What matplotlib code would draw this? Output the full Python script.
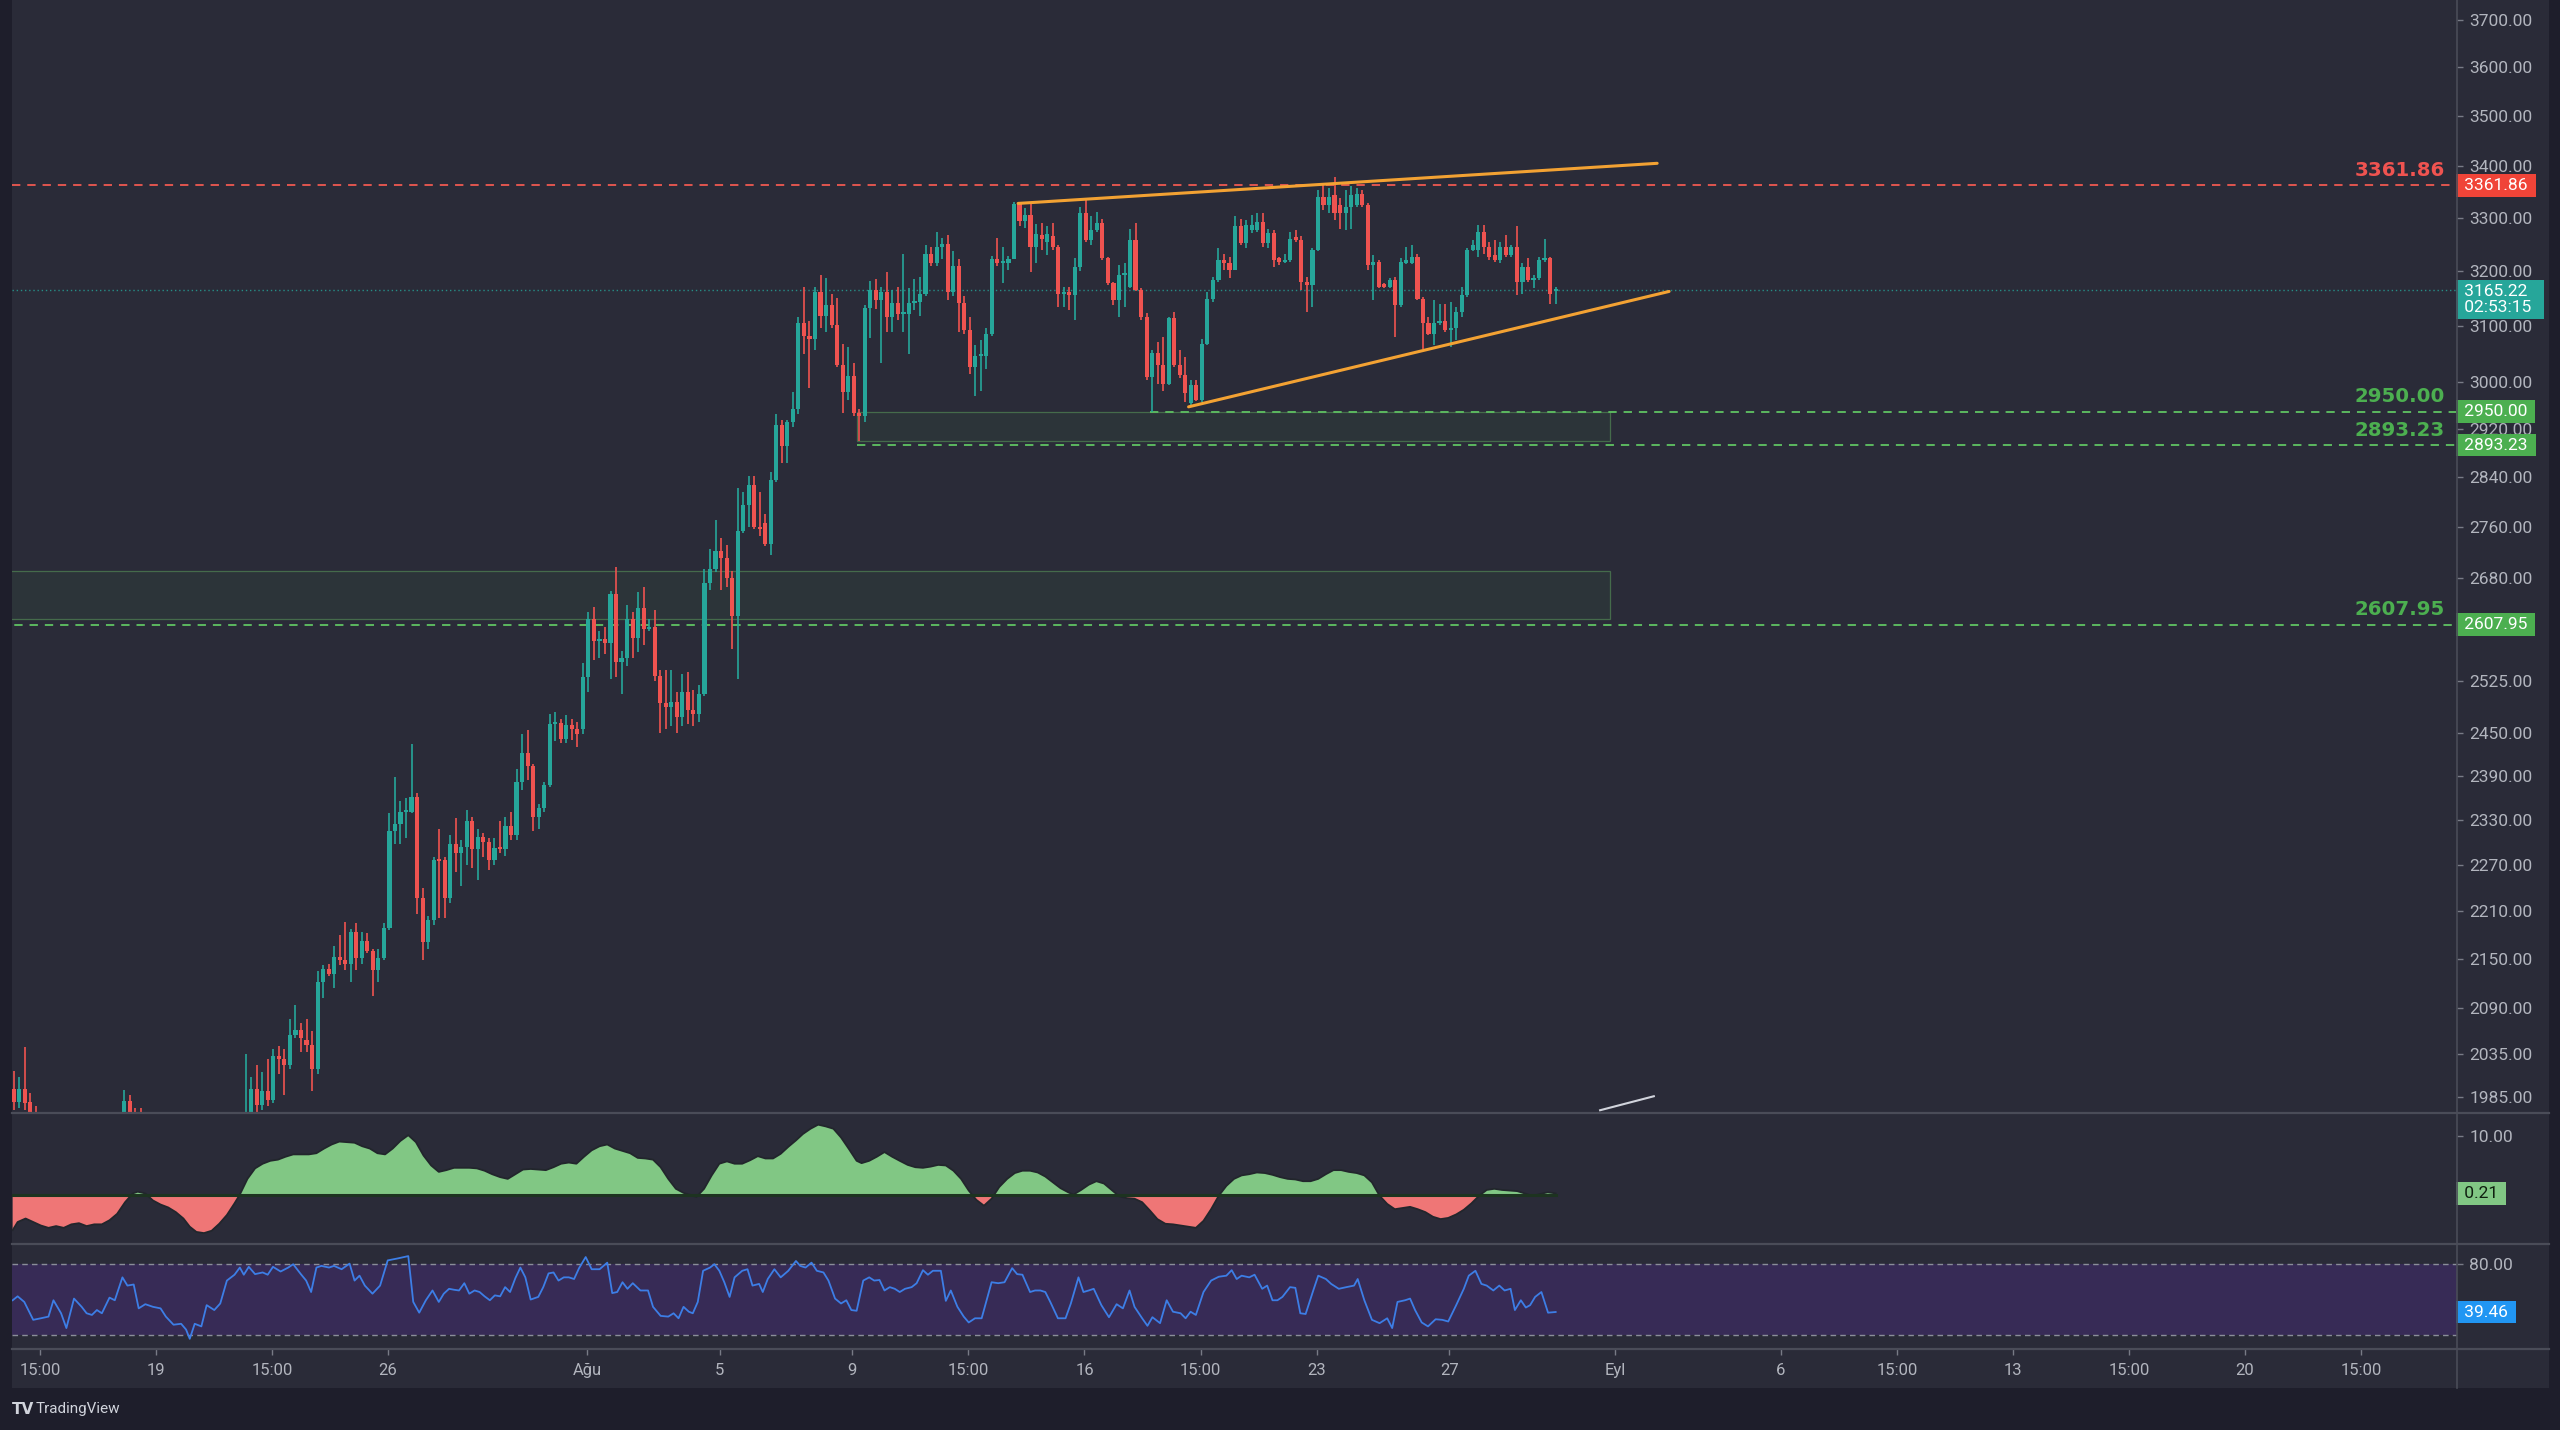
import numpy as np
import matplotlib
matplotlib.use("Agg")
import matplotlib.pyplot as plt
from matplotlib.lines import Line2D
from matplotlib.patches import Rectangle
from matplotlib.ticker import FixedLocator, FuncFormatter, NullLocator
from matplotlib.transforms import blended_transform_factory

nan = np.nan

# 4h candles, first bar opens 2021-07-14 15:00 (bars below the visible range are nan)
opens = ([1994, 1979, 1994, 1979, 1965] + [nan] * 15 + [1950, 1981, 1955, 1950] + [nan] * 18 +
         [1940, 1955, 1994, 1976, 1992, 1982, 2033, 2029,
          2022, 2058, 2064, 2052, 2046, 2018, 2122, 2138, 2131, 2153,
          2149, 2144, 2184, 2151, 2173, 2160, 2136, 2151, 2189, 2315,
          2324, 2340, 2341, 2361, 2227, 2171, 2199, 2277, 2276, 2227,
          2298, 2286, 2294, 2329, 2291, 2307, 2300, 2277, 2293, 2291,
          2322, 2310, 2382, 2422, 2404, 2334, 2346, 2377, 2462, 2464,
          2442, 2461, 2456, 2455, 2530, 2616, 2583, 2586, 2580, 2655,
          2553, 2559, 2616, 2588, 2633, 2602, 2605, 2532, 2493, 2487,
          2494, 2472, 2508, 2482, 2477, 2506, 2672, 2694, 2722, 2711,
          2680, 2621, 2754, 2795, 2828, 2760, 2766, 2733, 2836, 2927,
          2891, 2933, 2954, 3105, 3082, 3076, 3161, 3118, 3138, 3102,
          3030, 2983, 3011, 2948, 2942, 3131, 3164, 3147, 3161, 3115,
          3141, 3121, 3121, 3141, 3143, 3157, 3231, 3214, 3245, 3250,
          3161, 3209, 3141, 3092, 3027, 3046, 3046, 3085, 3221, 3214,
          3214, 3221, 3325, 3294, 3304, 3245, 3267, 3253, 3264, 3245,
          3158, 3161, 3156, 3207, 3308, 3257, 3276, 3289, 3223, 3177,
          3146, 3192, 3171, 3257, 3165, 3116, 3010, 3051, 3030, 2998,
          3113, 3030, 3013, 2964, 2995, 2970, 3068, 3149, 3183, 3220,
          3214, 3201, 3283, 3251, 3276, 3276, 3292, 3251, 3270, 3223,
          3217, 3220, 3263, 3257, 3180, 3174, 3239, 3340, 3324, 3343,
          3324, 3308, 3321, 3324, 3346, 3324, 3210, 3217, 3174, 3171,
          3183, 3137, 3214, 3214, 3226, 3149, 3104, 3086, 3104, 3108,
          3092, 3095, 3125, 3155, 3239, 3239, 3273, 3245, 3229, 3220,
          3245, 3229, 3245, 3180, 3207, 3183, 3186, 3220, 3223, 3162])
highs = ([2015, 2008, 2043, 1990, 1975] + [nan] * 15 + [1993, 1988, 1973, 1973] + [nan] * 18 +
         [2035, 2008, 2022, 2014, 2029, 2041, 2045, 2041,
          2077, 2094, 2072, 2077, 2062, 2135, 2142, 2144, 2166, 2180,
          2197, 2188, 2195, 2184, 2182, 2162, 2162, 2195, 2339, 2389,
          2356, 2360, 2434, 2367, 2240, 2204, 2280, 2317, 2280, 2310,
          2332, 2303, 2343, 2334, 2317, 2312, 2305, 2305, 2329, 2334,
          2341, 2399, 2449, 2454, 2406, 2351, 2382, 2477, 2480, 2470,
          2475, 2470, 2466, 2551, 2627, 2635, 2599, 2605, 2660, 2697,
          2569, 2638, 2627, 2658, 2666, 2616, 2630, 2540, 2540, 2540,
          2508, 2535, 2538, 2511, 2519, 2694, 2725, 2771, 2742, 2731,
          2691, 2822, 2816, 2842, 2842, 2816, 2780, 2848, 2945, 2936,
          2936, 2983, 3115, 3170, 3108, 3171, 3192, 3186, 3157, 3150,
          3068, 3062, 3034, 2955, 3138, 3181, 3184, 3171, 3198, 3164,
          3171, 3231, 3168, 3184, 3188, 3248, 3244, 3273, 3262, 3266,
          3237, 3221, 3154, 3115, 3066, 3075, 3095, 3228, 3262, 3245,
          3228, 3329, 3329, 3318, 3325, 3287, 3289, 3283, 3289, 3248,
          3171, 3171, 3223, 3321, 3333, 3302, 3311, 3298, 3226, 3180,
          3210, 3214, 3279, 3289, 3168, 3122, 3057, 3071, 3080, 3116,
          3125, 3057, 3045, 3004, 3004, 3077, 3161, 3189, 3242, 3232,
          3226, 3302, 3298, 3296, 3305, 3308, 3308, 3279, 3276, 3226,
          3232, 3273, 3276, 3264, 3189, 3242, 3353, 3363, 3356, 3379,
          3337, 3353, 3360, 3356, 3353, 3327, 3229, 3220, 3177, 3186,
          3189, 3223, 3245, 3248, 3232, 3152, 3116, 3146, 3140, 3140,
          3143, 3134, 3171, 3242, 3257, 3286, 3286, 3254, 3257, 3254,
          3267, 3248, 3283, 3214, 3223, 3192, 3226, 3260, 3226, 3171])
lows = ([1970, 1972, 1970, 1950, 1935] + [nan] * 15 + [1940, 1940, 1930, 1930] + [nan] * 18 +
        [1930, 1950, 1965, 1970, 1975, 1978, 2012, 1988,
         2018, 2054, 2037, 2037, 1992, 2012, 2102, 2129, 2114, 2142,
         2136, 2122, 2136, 2144, 2158, 2105, 2122, 2149, 2186, 2298,
         2297, 2305, 2339, 2206, 2149, 2162, 2193, 2201, 2201, 2220,
         2261, 2243, 2270, 2266, 2250, 2280, 2263, 2270, 2286, 2282,
         2303, 2303, 2370, 2384, 2315, 2317, 2341, 2375, 2439, 2436,
         2436, 2440, 2430, 2448, 2508, 2556, 2558, 2564, 2527, 2530,
         2506, 2546, 2558, 2567, 2578, 2599, 2524, 2450, 2455, 2460,
         2450, 2460, 2462, 2460, 2465, 2503, 2661, 2688, 2661, 2666,
         2572, 2527, 2750, 2760, 2757, 2745, 2730, 2716, 2833, 2863,
         2863, 2924, 2945, 3050, 2990, 3057, 3095, 3089, 3095, 3027,
         2948, 2970, 2942, 2900, 2932, 3078, 3130, 3034, 3089, 3089,
         3111, 3089, 3050, 3128, 3118, 3154, 3208, 3208, 3221, 3147,
         3154, 3089, 3086, 3015, 2977, 2986, 3024, 3082, 3208, 3178,
         3201, 3221, 3283, 3280, 3198, 3214, 3239, 3230, 3239, 3134,
         3134, 3128, 3110, 3200, 3254, 3248, 3273, 3220, 3174, 3137,
         3116, 3134, 3168, 3162, 3110, 3004, 2950, 2998, 2986, 2995,
         3027, 3007, 2967, 2958, 2968, 2966, 3065, 3143, 3180, 3201,
         3186, 3201, 3248, 3242, 3270, 3273, 3245, 3242, 3207, 3210,
         3214, 3217, 3254, 3165, 3125, 3134, 3236, 3314, 3308, 3295,
         3279, 3276, 3279, 3321, 3321, 3201, 3146, 3168, 3168, 3168,
         3080, 3134, 3212, 3212, 3146, 3059, 3083, 3065, 3101, 3089,
         3062, 3074, 3116, 3152, 3236, 3226, 3232, 3220, 3217, 3214,
         3226, 3226, 3155, 3158, 3180, 3168, 3183, 3217, 3140, 3140])
closes = ([1979, 1994, 1978, 1962, 1945] + [nan] * 15 + [1981, 1950, 1950, 1945] + [nan] * 18 +
          [1960, 1994, 1976, 1992, 1982, 2033, 2029, 2022,
           2058, 2064, 2054, 2046, 2018, 2122, 2138, 2131, 2153, 2149,
           2144, 2184, 2151, 2173, 2160, 2136, 2151, 2189, 2315, 2324,
           2340, 2341, 2361, 2227, 2171, 2199, 2277, 2275, 2227, 2298,
           2286, 2294, 2329, 2291, 2307, 2300, 2277, 2293, 2291, 2322,
           2310, 2382, 2422, 2404, 2334, 2346, 2377, 2462, 2464, 2442,
           2461, 2456, 2448, 2530, 2616, 2583, 2586, 2580, 2655, 2553,
           2559, 2616, 2588, 2633, 2602, 2605, 2532, 2493, 2487, 2494,
           2472, 2508, 2482, 2477, 2506, 2672, 2694, 2722, 2711, 2680,
           2621, 2754, 2795, 2828, 2760, 2757, 2733, 2836, 2927, 2891,
           2933, 2954, 3105, 3082, 3076, 3161, 3118, 3138, 3102, 3030,
           2983, 3011, 2948, 2942, 3131, 3164, 3147, 3161, 3115, 3141,
           3121, 3121, 3141, 3143, 3157, 3231, 3214, 3245, 3250, 3161,
           3209, 3141, 3092, 3027, 3046, 3046, 3085, 3221, 3214, 3214,
           3221, 3325, 3294, 3304, 3245, 3269, 3260, 3268, 3245, 3158,
           3161, 3156, 3207, 3308, 3257, 3276, 3289, 3223, 3177, 3146,
           3192, 3196, 3257, 3165, 3116, 3010, 3051, 3030, 2998, 3113,
           3030, 3013, 2981, 2995, 2970, 3068, 3149, 3183, 3220, 3214,
           3201, 3283, 3251, 3286, 3286, 3292, 3251, 3270, 3220, 3217,
           3220, 3260, 3257, 3180, 3174, 3239, 3340, 3324, 3340, 3308,
           3308, 3321, 3343, 3346, 3324, 3210, 3217, 3171, 3171, 3183,
           3137, 3217, 3220, 3226, 3149, 3104, 3086, 3105, 3108, 3092,
           3095, 3125, 3155, 3239, 3248, 3273, 3245, 3226, 3220, 3245,
           3229, 3245, 3180, 3207, 3183, 3186, 3220, 3223, 3158, 3165.22])

macd_t = [-4.32, -4.17, -3.93, -3.70, -3.47, -3.24, -3.01, -2.78, -2.55, -2.32,
          -2.09, -1.86, -1.63, -1.40, -1.17, -0.93, -0.70, -0.55, -0.32, -0.09,
          0.14, 0.37, 0.60, 0.83, 1.02, 1.22, 1.45, 1.68, 1.91, 2.14,
          2.37, 2.53, 2.76, 2.99, 3.22, 3.45, 3.68, 3.91, 4.14, 4.37,
          4.61, 4.84, 5.07, 5.30, 5.53, 5.76, 5.99, 6.22, 6.45, 6.68,
          6.91, 7.14, 7.37, 7.61, 7.84, 8.07, 8.30, 8.53, 8.76, 8.99,
          9.22, 9.45, 9.68, 9.91, 10.14, 10.38, 10.61, 10.84, 11.07, 11.30,
          11.53, 11.76, 11.99, 12.22, 12.45, 12.68, 12.91, 13.14, 13.38, 13.61,
          13.84, 14.07, 14.30, 14.53, 14.76, 14.99, 15.22, 15.45, 15.68, 15.91,
          16.14, 16.30, 16.53, 16.76, 16.99, 17.22, 17.45, 17.68, 17.92, 18.15,
          18.38, 18.61, 18.84, 19.07, 19.30,
          19.51, 19.74, 19.97, 20.20, 20.43, 20.66, 20.90, 21.13, 21.28, 21.51,
          21.74, 21.97, 22.20, 22.43, 22.67, 22.90, 23.13, 23.36, 23.59, 23.82,
          24.05, 24.28, 24.51, 24.74, 24.97, 25.20, 25.43, 25.67, 25.90, 26.13,
          26.36, 26.59, 26.82, 27.05, 27.28, 27.51, 27.67, 27.90, 28.13, 28.36,
          28.59, 28.82, 29.05, 29.28, 29.51, 29.74, 29.97, 30.20, 30.44, 30.67,
          30.90, 31.13, 31.36, 31.59, 31.82, 32.05, 32.28, 32.51, 32.74, 32.97,
          33.20, 33.44, 33.67, 33.90, 34.13, 34.36, 34.59, 34.82, 35.05, 35.28,
          35.51, 35.74, 35.97, 36.21, 36.44, 36.67, 36.90, 37.13, 37.36, 37.59,
          37.82, 38.05, 38.28, 38.51, 38.74, 38.97, 39.21, 39.44, 39.67, 39.90,
          40.13, 40.36, 40.59, 40.82, 41.05, 41.28, 41.51, 41.74, 41.97, 42.21]
macd_v = [-6.1, -4.7, -4.1, -4.7, -5.3, -5.7, -5.4, -5.7, -5.1, -4.9,
          -5.4, -5.1, -5.1, -4.4, -3.3, -1.3, 0.2, 0.5, 0.2, -1.0,
          -1.7, -2.2, -3.0, -4.1, -5.5, -6.4, -6.6, -6.2, -5.0, -3.5,
          -1.5, 0.0, 2.7, 4.5, 5.3, 5.8, 6.0, 6.5, 6.9, 6.9,
          6.9, 7.1, 7.9, 8.6, 9.1, 9.0, 8.9, 8.3, 7.9, 7.1,
          6.9, 7.9, 9.2, 10.2, 9.0, 6.7, 5.0, 3.9, 4.2, 4.6,
          4.6, 4.6, 4.5, 4.1, 3.5, 3.0, 2.7, 3.5, 4.3, 4.4,
          4.3, 4.2, 4.7, 5.3, 5.5, 5.3, 6.5, 7.6, 8.3, 8.6,
          7.9, 7.5, 7.1, 6.3, 6.2, 6.0, 4.7, 2.7, 1.0, 0.3,
          -0.1, -0.4, 1.0, 3.3, 5.3, 5.7, 5.3, 5.3, 5.9, 6.6,
          6.2, 6.2, 7.0, 8.2, 9.3,
          10.4, 11.3, 12.0, 11.7, 11.3, 9.8, 7.8, 5.8, 5.4, 5.8,
          6.5, 7.3, 6.5, 5.8, 5.1, 4.7, 4.6, 4.8, 5.1, 5.0,
          4.1, 2.7, 0.7, -0.9, -1.9, -0.7, 1.3, 2.7, 3.7, 4.1,
          4.1, 3.8, 3.1, 2.1, 1.1, 0.4, 0.0, 0.8, 1.7, 2.3,
          1.9, 0.8, -0.3, -0.6, -0.7, -1.3, -2.7, -4.2, -5.0, -5.1,
          -5.3, -5.5, -5.7, -4.5, -2.5, -0.2, 1.5, 2.7, 3.3, 3.5,
          3.8, 3.7, 3.4, 3.0, 2.7, 2.6, 2.3, 2.3, 2.7, 3.5,
          4.2, 4.2, 3.9, 3.7, 3.3, 2.1, -0.2, -1.6, -2.5, -2.3,
          -2.1, -2.5, -3.0, -3.8, -4.2, -4.0, -3.4, -2.6, -1.5, -0.2,
          0.8, 1.0, 0.8, 0.7, 0.6, 0.2, -0.2, 0.1, 0.4, 0.21]

# RSI pane
rsi_t = [-4.32, -4.17, -3.97, -3.70, -3.47, -3.24, -3.09, -2.86, -2.70, -2.47,
         -2.24, -2.09, -1.93, -1.78, -1.63, -1.40, -1.24, -1.01, -0.86, -0.67,
         -0.52, -0.32, -0.09, 0.14, 0.30, 0.53, 0.76, 0.91, 1.02, 1.17,
         1.37, 1.53, 1.76, 1.94, 2.14, 2.37, 2.53, 2.65, 2.80, 2.99,
         3.22, 3.37, 3.53, 3.76, 3.99, 4.14, 4.37, 4.53, 4.68, 4.84,
         4.99, 5.22, 5.37, 5.60, 5.84, 5.99, 6.14, 6.30, 6.53, 6.76,
         6.99, 7.30, 7.61, 7.76, 7.94, 8.14, 8.34, 8.53, 8.68, 8.84,
         8.99, 9.14, 9.30, 9.45, 9.61, 9.76, 9.91, 10.07, 10.22, 10.38,
         10.53, 10.68, 10.84, 10.99, 11.14, 11.30, 11.53, 11.68, 11.84, 11.99,
         12.14, 12.30, 12.45, 12.61, 12.76, 12.96, 13.14, 13.38, 13.61, 13.76,
         13.91, 14.07, 14.22, 14.38, 14.61, 14.84, 14.99, 15.22, 15.45, 15.61,
         15.76, 15.91, 16.07, 16.19, 16.34, 16.50, 16.71, 16.84, 16.99, 17.14,
         17.30, 17.45, 17.68, 17.84, 17.99, 18.19, 18.30, 18.45, 18.65, 18.84,
         19.07, 19.30,
         19.43, 19.59, 19.77, 19.93, 20.13, 20.28, 20.48, 20.66, 20.82, 20.97,
         21.13, 21.33, 21.51, 21.66, 21.82, 21.97, 22.13, 22.28, 22.43, 22.59,
         22.79, 22.94, 23.13, 23.28, 23.43, 23.67, 23.82, 23.97, 24.17, 24.36,
         24.51, 24.70, 24.90, 25.05, 25.20, 25.40, 25.59, 25.82, 25.97, 26.13,
         26.36, 26.51, 26.67, 26.82, 26.97, 27.20, 27.43, 27.59, 27.82, 27.97,
         28.13, 28.28, 28.51, 28.74, 28.97, 29.16, 29.36, 29.51, 29.74, 29.90,
         30.05, 30.28, 30.48, 30.67, 30.90, 31.05, 31.20, 31.36, 31.59, 31.82,
         32.05, 32.28, 32.44, 32.59, 32.74, 32.97, 33.13, 33.36, 33.51, 33.67,
         33.82, 33.97, 34.20, 34.36, 34.51, 34.67, 34.90, 35.05, 35.28, 35.44,
         35.67, 35.90, 36.13, 36.24, 36.44, 36.67, 36.90, 37.13, 37.28, 37.44,
         37.67, 37.82, 37.97, 38.17, 38.36, 38.59, 38.79, 38.97, 39.21, 39.44,
         39.59, 39.79, 39.97, 40.13, 40.33, 40.51, 40.67, 40.85, 40.98, 41.16,
         41.31, 41.44, 41.59, 41.78, 41.98, 42.21]
rsi_v = [49.3, 52.6, 47.9, 32.9, 34.2, 35.6, 49.3, 38.4, 26.0, 50.7,
         43.8, 38.4, 37.0, 41.1, 38.4, 51.5, 49.3, 68.5, 61.6, 62.5,
         42.5, 46.0, 43.8, 42.5, 35.6, 28.8, 29.6, 24.7, 17.0, 29.6,
         27.4, 45.2, 41.1, 46.6, 65.8, 70.7, 76.7, 70.7, 77.3, 71.2,
         72.6, 70.7, 77.3, 73.4, 76.7, 79.5, 71.2, 65.8, 56.2, 76.7,
         78.1, 76.7, 78.1, 75.3, 80.0, 65.8, 69.9, 61.6, 54.8, 61.6,
         82.7, 84.4, 86.3, 47.9, 38.9, 49.3, 57.5, 47.9, 54.8, 58.9,
         58.1, 57.5, 63.6, 54.8, 57.5, 56.2, 52.6, 49.3, 53.4, 52.6,
         60.3, 56.2, 67.9, 76.7, 68.5, 49.9, 52.1, 60.3, 71.8, 72.6,
         65.8, 68.5, 68.5, 67.1, 76.2, 85.5, 75.3, 75.3, 80.8, 55.3,
         56.2, 64.4, 58.9, 63.6, 57.5, 57.5, 43.8, 36.2, 35.6, 38.4,
         34.2, 43.8, 39.7, 38.4, 47.9, 74.0, 76.7, 79.5, 74.0, 64.4,
         52.1, 68.5, 74.0, 75.3, 61.6, 63.0, 56.2, 67.1, 75.3, 68.5,
         74.0, 82.2,
         78.1, 76.7, 80.8, 74.0, 72.6, 65.8, 50.7, 46.6, 49.3, 41.1,
         40.5, 65.8, 68.5, 65.8, 66.3, 57.5, 60.3, 58.9, 56.2, 58.9,
         60.3, 63.6, 74.5, 70.7, 74.0, 74.0, 48.8, 57.5, 43.8, 35.6,
         30.7, 34.2, 34.2, 49.3, 64.4, 63.6, 64.4, 76.2, 71.2, 70.7,
         56.2, 57.5, 57.5, 56.2, 47.9, 34.2, 34.2, 46.6, 68.5, 56.2,
         57.5, 58.9, 45.2, 35.1, 46.0, 42.5, 57.5, 43.8, 34.2, 27.9,
         35.1, 30.1, 49.3, 39.7, 38.4, 34.2, 39.7, 37.0, 56.2, 65.8,
         69.0, 69.9, 74.5, 67.1, 69.9, 68.5, 70.7, 58.9, 61.6, 49.3,
         49.3, 52.1, 60.3, 59.7, 38.4, 37.8, 57.5, 69.9, 67.1, 63.0,
         58.9, 60.3, 61.6, 67.1, 49.3, 32.9, 30.1, 34.2, 26.0, 47.9,
         49.3, 50.7, 41.1, 30.7, 27.4, 33.4, 32.9, 31.5, 45.2, 58.9,
         69.9, 74.0, 63.0, 61.6, 57.5, 61.6, 57.5, 58.9, 41.1, 49.3,
         43.2, 45.2, 52.1, 56.2, 38.9, 39.46]

price_ticks = [3700, 3600, 3500, 3400, 3300, 3200, 3100, 3000, 2920, 2840, 2760,
               2680, 2525, 2450, 2390, 2330, 2270, 2210, 2150, 2090, 2035, 1985]
time_ticks = ['2021-07-15T12:00', '2021-07-19', '2021-07-22T12:00', '2021-07-26',
              '2021-08-01', '2021-08-05', '2021-08-09', '2021-08-12T12:00', '2021-08-16',
              '2021-08-19T12:00', '2021-08-23', '2021-08-27', '2021-09-01', '2021-09-06',
              '2021-09-09T12:00', '2021-09-13', '2021-09-16T12:00', '2021-09-20',
              '2021-09-23T12:00']
time_labels = ['15:00', '19', '15:00', '26', 'Ağu', '5', '9', '15:00', '16', '15:00',
               '23', '27', 'Eyl', '6', '15:00', '13', '15:00', '20', '15:00']

resistance = 3361.86
supports = [2950.00, 2893.23, 2607.95]
support_start = [29.98, 21.14, -5.0]      # days since 19 Jul where each dashed level starts
last_price = 3165.22
zones = [(21.14, 43.85, 2900, 2950), (-5.0, 43.85, 2617, 2690)]
wedge_upper = ([26.0, 45.27], [3327, 3405])
wedge_lower = ([31.14, 45.63], [2958, 3162])
small_line = ([43.55, 45.17], [1970, 1986])

# colours
OUTER = '#1e1e2b'
BG = '#2a2b38'
TEAL = '#26a69a'
RED = '#ef5350'
GREEN = '#4caf50'
ORANGE = '#f3a233'
TXT = '#b2b5be'
SEP = '#4a4c58'

plt.rcParams['lines.scale_dashes'] = False
plt.rcParams['font.family'] = ['Roboto', 'DejaVu Sans']

W, H = 2560, 1430
fig = plt.figure(figsize=(W / 100, H / 100), dpi=100, facecolor=OUTER)
fig.patches.append(Rectangle((12 / W, 42 / H), 2537 / W, 1388 / H, transform=fig.transFigure,
                             facecolor=BG, edgecolor='none', zorder=-1))


def panel(top, bottom):
    a = fig.add_axes([12 / W, 1 - bottom / H, 2445 / W, (bottom - top) / H])
    a.set_facecolor(BG)
    for s in a.spines.values():
        s.set_visible(False)
    a.tick_params(axis='x', bottom=False, labelbottom=False)
    a.yaxis.tick_right()
    a.tick_params(axis='y', length=4, width=1, color='#787b86', labelcolor=TXT,
                  labelsize=12.5, pad=5)
    a.set_xlim(-4.34, 69.39)
    return a


ax = panel(0, 1112)
axm = panel(1113, 1243)
axr = panel(1245, 1348)
axt = panel(1349, 1388)

ref = np.datetime64('2021-07-19T00:00')
t0 = np.datetime64('2021-07-14T15:00')
o = np.array(opens, float)
h = np.array(highs, float)
l = np.array(lows, float)
c = np.array(closes, float)
bar_t = t0 + np.arange(len(c)) * np.timedelta64(4, 'h') + np.timedelta64(2, 'h')
x = (bar_t - ref) / np.timedelta64(1, 'D')

ok = ~np.isnan(c)
xs, o, h, l, c = x[ok], o[ok], h[ok], l[ok], c[ok]
col = np.where(c >= o, TEAL, RED)

# price pane
ax.set_yscale('log')
ax.set_ylim(1968, 3742)
ax.yaxis.set_major_locator(FixedLocator(price_ticks))
ax.yaxis.set_major_formatter(FuncFormatter(lambda v, p: f'{v:.2f}'))
ax.yaxis.set_minor_locator(NullLocator())

for x0, x1, y0, y1 in zones:
    ax.add_patch(Rectangle((x0, y0), x1 - x0, y1 - y0, facecolor=(0.30, 0.69, 0.31, 0.07),
                           edgecolor=(0.36, 0.62, 0.36, 0.55), lw=0.9, zorder=1))

ax.axhline(resistance, color='#e0564f', lw=1.4, ls=(0, (6, 5)), zorder=2)
for lv, xs0 in zip(supports, support_start):
    ax.hlines(lv, xs0, 69.39, color='#5cb860', lw=1.4, ls=(0, (6, 5)), zorder=2)
ax.axhline(last_price, color=TEAL, lw=1, ls=(0, (1, 2)), alpha=0.8, zorder=2)

ax.vlines(xs, l, h, colors=col, lw=1.2, zorder=3)
lo = np.minimum(o, c)
hi = np.maximum(np.maximum(o, c), lo * 1.0012)
ax.bar(xs, hi - lo, bottom=lo, width=0.75 / 6, color=col, linewidth=0, zorder=4)

ax.plot(*wedge_upper, color=ORANGE, lw=2.2, zorder=5, solid_capstyle='round')
ax.plot(*wedge_lower, color=ORANGE, lw=2.2, zorder=5, solid_capstyle='round')
ax.plot(*small_line, color='#d1d4dc', lw=1.5, zorder=5)

for lv, colr in [(resistance, RED)] + [(s, GREEN) for s in supports]:
    ax.annotate(f'{lv:.2f}', xy=(0.995, lv), xycoords=('axes fraction', 'data'),
                xytext=(0, 4), textcoords='offset points', ha='right', va='bottom',
                fontsize=14.2, fontweight='bold', color=colr, family='DejaVu Sans', zorder=6)


def tag(a, y, s, fc, tc='white', dy=0):
    # value flag sitting on the price scale
    a.annotate(s, xy=(1.0012, y), xycoords=blended_transform_factory(a.transAxes, a.transData),
               xytext=(0, dy), textcoords='offset points', ha='left', va='center',
               fontsize=12.5, color=tc, linespacing=1.1, annotation_clip=False, zorder=10,
               bbox=dict(boxstyle='square,pad=0.22', fc=fc, ec='none'))


tag(ax, resistance, f' {resistance:.2f} ', '#f04438')
tag(ax, last_price, f' {last_price:.2f}  \n 02:53:15  ', TEAL, dy=-7)
for s in supports:
    tag(ax, s, f' {s:.2f} ', GREEN)

# oscillator pane
mt = np.array(macd_t)
mv = np.array(macd_v)
axm.set_ylim(-8.3, 14.0)
axm.fill_between(mt, mv, 0, where=mv >= 0, interpolate=True, color='#81c784', lw=0, zorder=2)
axm.fill_between(mt, mv, 0, where=mv <= 0, interpolate=True, color='#ef7676', lw=0, zorder=2)
axm.plot(mt, mv, color='#22262c', lw=1.3, zorder=3)
axm.plot([mt[0], mt[-1]], [0, 0], color='#1d3320', lw=2.2, zorder=3)
axm.yaxis.set_major_locator(FixedLocator([10]))
axm.yaxis.set_major_formatter(FuncFormatter(lambda v, p: f'{v:.2f}'))
tag(axm, macd_v[-1], f' {macd_v[-1]:.2f} ', '#81c784', tc='#102010')

# RSI pane
axr.set_ylim(9.3, 95.6)
axr.axhspan(20, 80, color='#372b56', lw=0, zorder=1)
for lv in (80, 20):
    axr.axhline(lv, color='#8a8d99', lw=1, ls=(0, (4, 3)), zorder=2)
axr.plot(rsi_t, rsi_v, color='#3d7ee6', lw=1.3, zorder=3)
axr.yaxis.set_major_locator(FixedLocator([80]))
axr.yaxis.set_major_formatter(FuncFormatter(lambda v, p: f'{v:.2f}'))
tag(axr, rsi_v[-1], f' {rsi_v[-1]:.2f} ', '#2196f3')

# time axis band
tick_x = [(np.datetime64(t) - ref) / np.timedelta64(1, 'D') for t in time_ticks]
axt.set_ylim(0, 1)
axt.set_yticks([])
axt.set_xticks(tick_x)
axt.tick_params(axis='x', top=True, bottom=False, labelbottom=False, direction='in',
                length=4, width=1, color='#787b86')
for tx, lb in zip(tick_x, time_labels):
    axt.text(tx, 0.46, lb, ha='center', va='center', fontsize=12, color=TXT)

# pane separators and price-axis border
for yy in (1112.5, 1244, 1349):
    fig.add_artist(Line2D([12 / W, 2549 / W], [1 - yy / H] * 2, color=SEP, lw=1.6))
fig.add_artist(Line2D([2457 / W] * 2, [1 - 1388 / H, 1], color=SEP, lw=1.2))

fig.text(12 / W, 1 - 1409 / H, 'TV', fontsize=11, fontweight='heavy', color='#d1d4dc',
         va='center', family='DejaVu Sans')
fig.text(36 / W, 1 - 1409 / H, 'TradingView', fontsize=11, color='#d1d4dc', va='center')

fig.savefig('out.png', dpi=100, facecolor=OUTER)
